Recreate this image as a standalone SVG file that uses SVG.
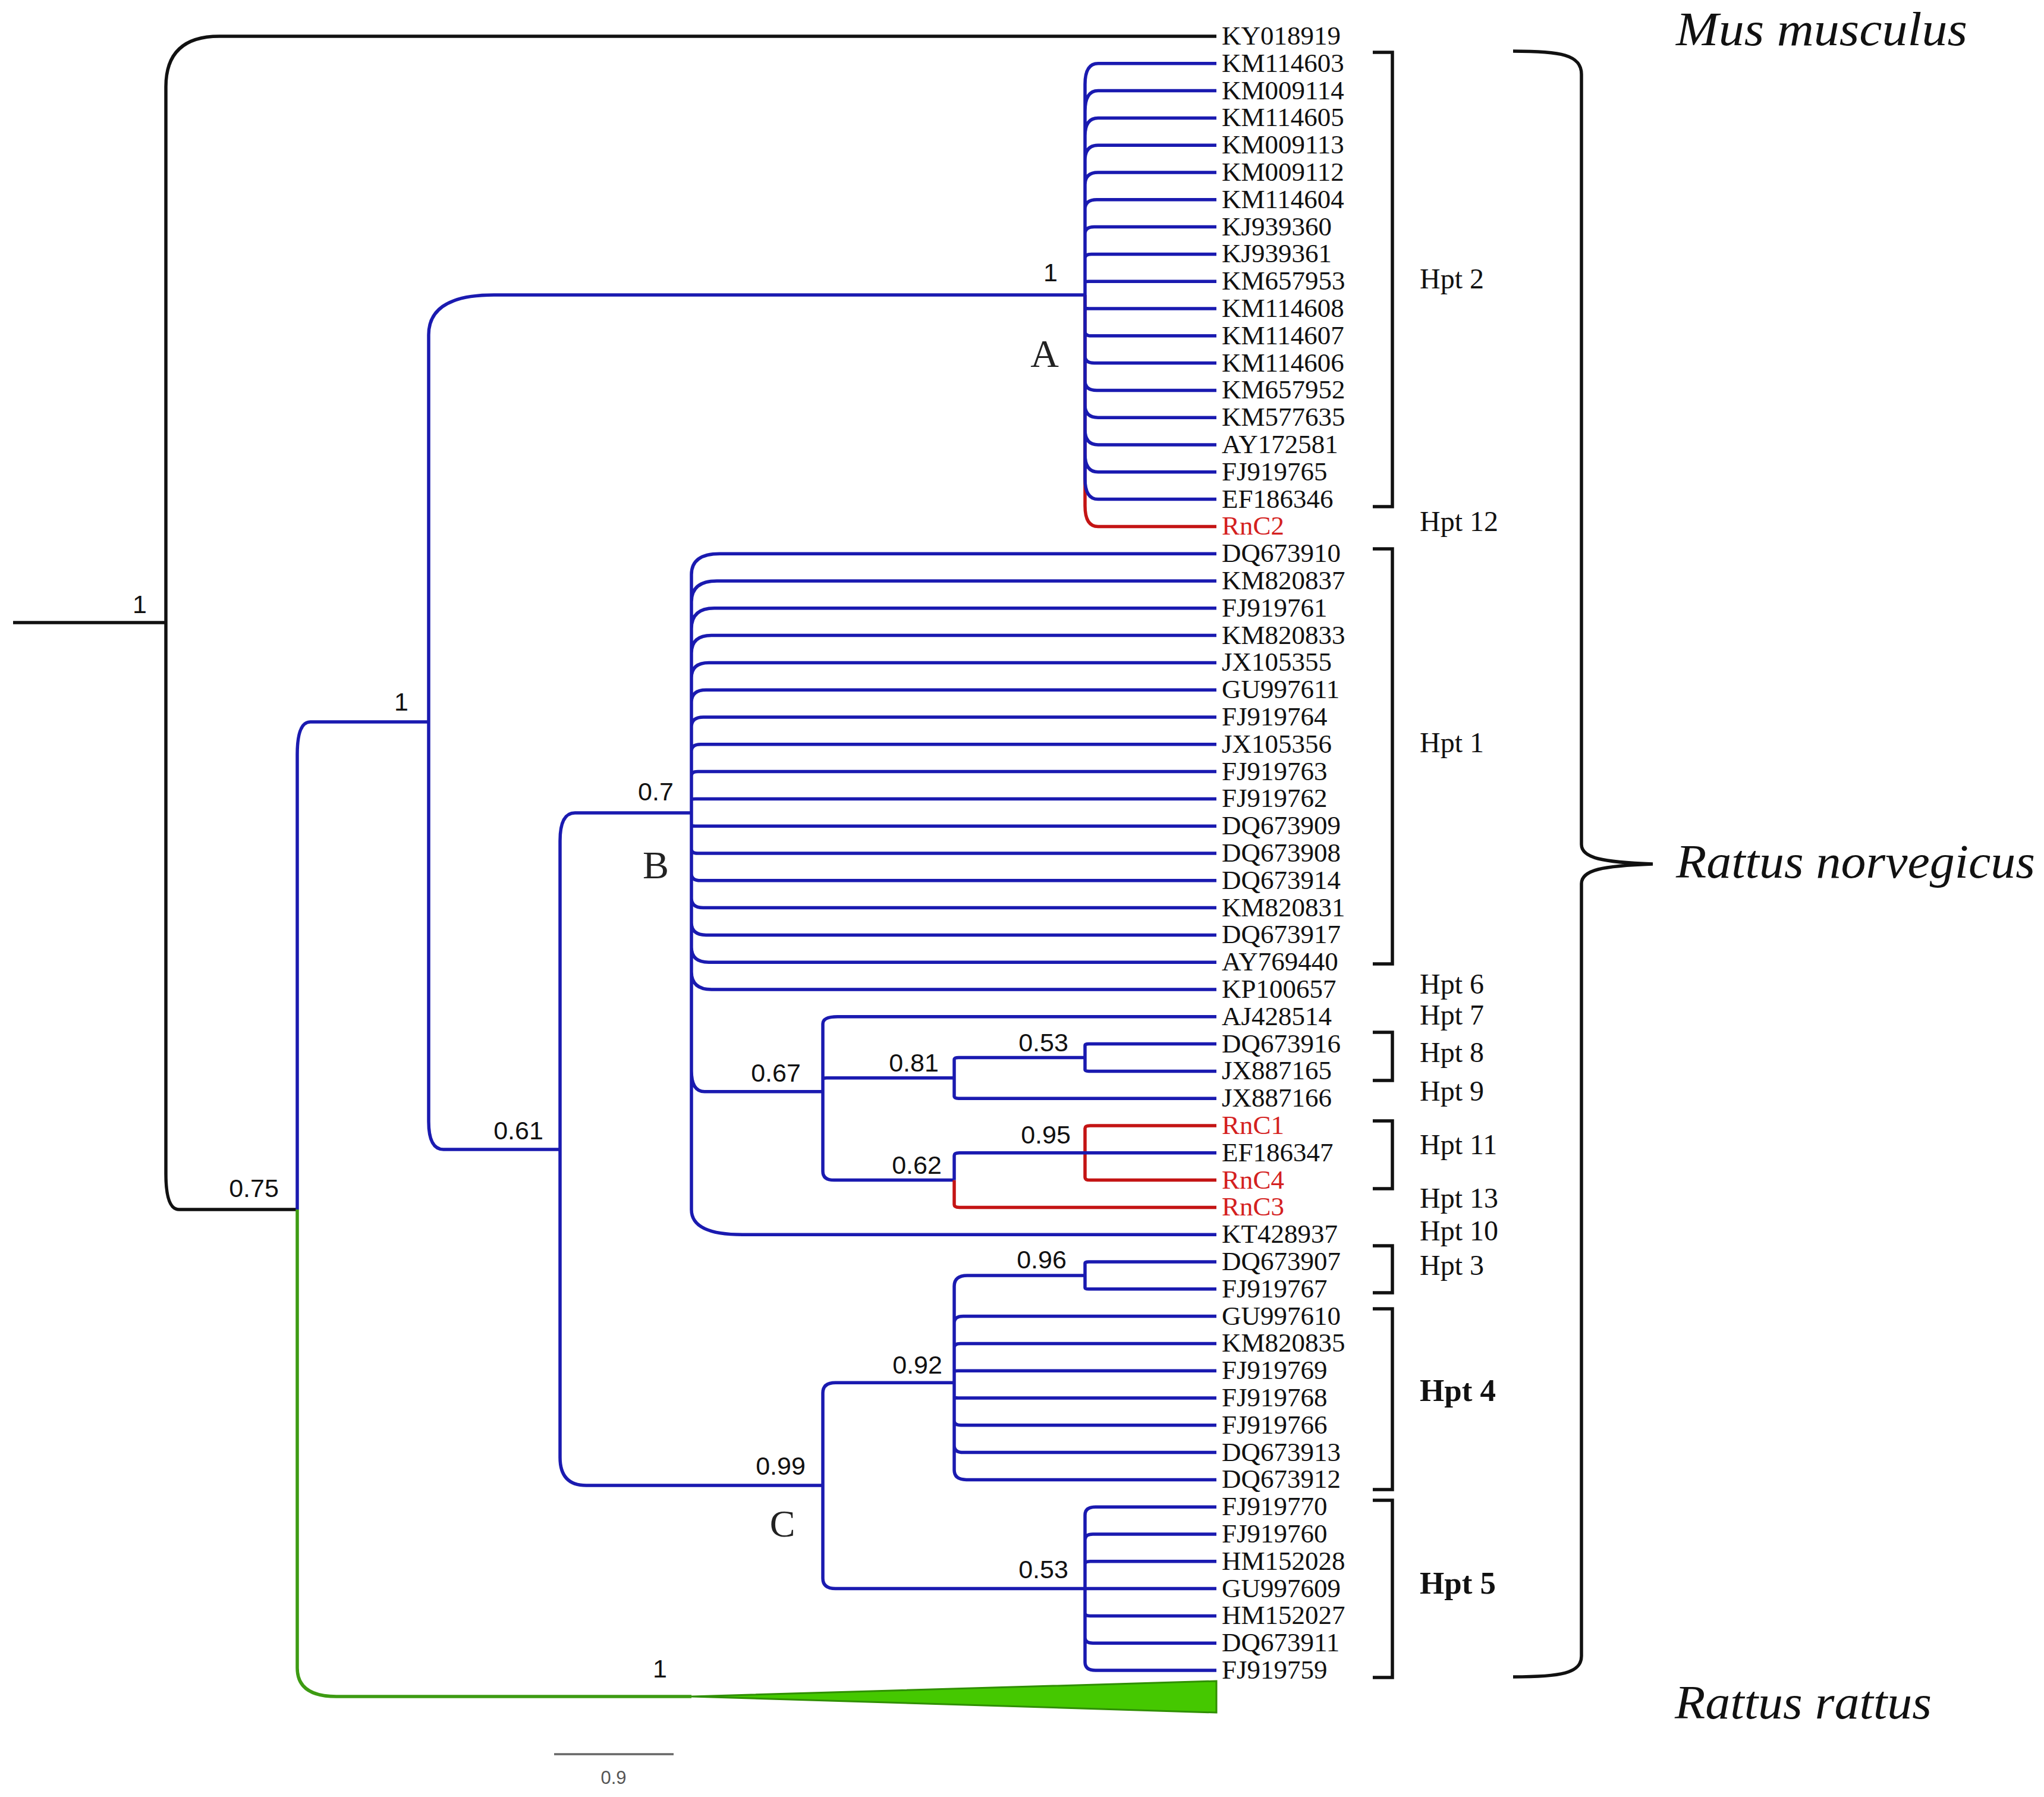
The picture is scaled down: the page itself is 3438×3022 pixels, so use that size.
<svg xmlns="http://www.w3.org/2000/svg" width="3438" height="3022" viewBox="0 0 3438 3022">
<style>
.e{fill:none;stroke-width:5.5;stroke-linecap:butt;stroke-linejoin:round}
.k{stroke:#111}
.b{stroke:#1a1ab0}
.r{stroke:#c41414}
.g{stroke:#3d9b12}
.br{fill:none;stroke:#111;stroke-width:5.5}
.lf{font-family:"Liberation Serif","Times New Roman",serif;font-size:45px;fill:#111}
.red{fill:#d42020}
.hp{font-family:"Liberation Serif","Times New Roman",serif;font-size:48px;fill:#111}
.hb{font-family:"Liberation Serif","Times New Roman",serif;font-size:53px;font-weight:bold;fill:#111}
.sp{font-family:"Liberation Sans",Arial,sans-serif;font-size:43px;fill:#111;text-anchor:middle}
.cl{font-family:"Liberation Serif","Times New Roman",serif;font-size:66px;fill:#222;text-anchor:middle}
.sn{font-family:"Liberation Serif","Times New Roman",serif;font-size:80px;font-style:italic;fill:#111}
</style>
<rect width="3438" height="3022" fill="#fff"/>
<g id="connectors">
<path class="e k" d="M22,1047 H279 M279,1047 V146 Q279,61 369,61 H2046 M279,1047 V1974 Q279,2034 301,2034 H500"/>
<path class="e g" d="M500,2034 V2805 Q500,2853 566,2853 H1163"/>
<polygon points="1163,2853 2046,2827 2046,2880" fill="#45c800" stroke="#2f8f00" stroke-width="3"/>
<path class="e b" d="M500,2034 V1269 Q500,1214 522,1214 H721 M721,1214 V563 Q721,496 831,496 H1825 M721,1214 V1886 Q721,1933 746,1933 H942 M942,1933 V1414 Q942,1367 967,1367 H1163 M942,1933 V2451 Q942,2498 986,2498 H1384"/>
<path class="e r" d="M1825,496 V850.4 Q1825,885.4 1847,885.4 H2046"/>
<path class="e b" d="M1825,496 V141.8 Q1825,106.8 1847,106.8 H2046 M1825,496 V187 Q1825,152.6 1847,152.6 H2046 M1825,496 V228.2 Q1825,198.4 1847,198.4 H2046 M1825,496 V269.4 Q1825,244.2 1847,244.2 H2046 M1825,496 V310.6 Q1825,290 1847,290 H2046 M1825,496 V351.8 Q1825,335.8 1845,335.8 H2046 M1825,496 V393.1 Q1825,381.6 1840.5,381.6 H2046 M1825,496 V434.3 Q1825,427.4 1835.9,427.4 H2046 M1825,496 V475.5 Q1825,473.2 1831.3,473.2 H2046 M1825,496 V516.7 Q1825,519 1831.3,519 H2046 M1825,496 V557.9 Q1825,564.8 1835.9,564.8 H2046 M1825,496 V599.1 Q1825,610.6 1840.5,610.6 H2046 M1825,496 V640.4 Q1825,656.4 1845,656.4 H2046 M1825,496 V681.6 Q1825,702.2 1847,702.2 H2046 M1825,496 V722.8 Q1825,748 1847,748 H2046 M1825,496 V764 Q1825,793.8 1847,793.8 H2046 M1825,496 V805.2 Q1825,839.6 1847,839.6 H2046"/>
<path class="e b" d="M1163,1367 V966.2 Q1163,931.2 1210.6,931.2 H2046 M1163,1367 V1012 Q1163,977 1206,977 H2046 M1163,1367 V1057.2 Q1163,1022.8 1201.4,1022.8 H2046 M1163,1367 V1098.4 Q1163,1068.6 1196.8,1068.6 H2046 M1163,1367 V1139.7 Q1163,1114.4 1192.3,1114.4 H2046 M1163,1367 V1180.9 Q1163,1160.2 1187.7,1160.2 H2046 M1163,1367 V1222.1 Q1163,1206 1183.1,1206 H2046 M1163,1367 V1263.3 Q1163,1251.8 1178.5,1251.8 H2046 M1163,1367 V1304.5 Q1163,1297.6 1173.9,1297.6 H2046 M1163,1367 V1345.8 Q1163,1343.4 1169.4,1343.4 H2046 M1163,1367 V1387 Q1163,1389.2 1169.2,1389.2 H2046 M1163,1367 V1428.2 Q1163,1435 1173.8,1435 H2046 M1163,1367 V1469.4 Q1163,1480.8 1178.4,1480.8 H2046 M1163,1367 V1510.6 Q1163,1526.6 1183,1526.6 H2046 M1163,1367 V1551.8 Q1163,1572.4 1187.6,1572.4 H2046 M1163,1367 V1593.1 Q1163,1618.2 1192.1,1618.2 H2046 M1163,1367 V1634.3 Q1163,1664 1196.7,1664 H2046 M1163,1367 V1800.75 Q1163,1835.75 1185,1835.75 H1384 M1163,1367 V2034.2 Q1163,2076.2 1249,2076.2 H2046"/>
<path class="e b" d="M1384,1835.75 V1721.8 Q1384,1709.8 1409,1709.8 H2046 M1384,1835.75 V1815.15 Q1384,1812.85 1390.3,1812.85 H1605 M1384,1835.75 V1969.7 Q1384,1984.6 1402.9,1984.6 H1605 M1605,1812.85 V1781.9 Q1605,1778.5 1612.4,1778.5 H1825 M1605,1812.85 V1843.8 Q1605,1847.2 1612.4,1847.2 H2046 M1825,1778.5 V1757.9 Q1825,1755.6 1831.3,1755.6 H2046 M1825,1778.5 V1799.1 Q1825,1801.4 1831.3,1801.4 H2046"/>
<path class="e r" d="M1605,1984.6 V2025.8 Q1605,2030.4 1613.6,2030.4 H2046 M1825,1938.8 V1897.6 Q1825,1893 1833.6,1893 H2046 M1825,1938.8 V1980 Q1825,1984.6 1833.6,1984.6 H2046"/>
<path class="e b" d="M1605,1984.6 V1943.4 Q1605,1938.8 1613.6,1938.8 H2046"/>
<path class="e b" d="M1384,2498.3 V2342.5 Q1384,2325.2 1405.3,2325.2 H1605 M1384,2498.3 V2654.3 Q1384,2671.6 1405.3,2671.6 H1825 M1605,2325.2 V2162.9 Q1605,2144.9 1627,2144.9 H1825 M1605,2325.2 V2224.8 Q1605,2213.6 1620.2,2213.6 H2046 M1605,2325.2 V2266 Q1605,2259.4 1615.6,2259.4 H2046 M1605,2325.2 V2307.2 Q1605,2305.2 1611,2305.2 H2046 M1605,2325.2 V2348.4 Q1605,2351 1611.6,2351 H2046 M1605,2325.2 V2389.6 Q1605,2396.8 1616.2,2396.8 H2046 M1605,2325.2 V2430.9 Q1605,2442.6 1620.7,2442.6 H2046 M1605,2325.2 V2472.1 Q1605,2488.4 1625.3,2488.4 H2046 M1825,2144.9 V2124.3 Q1825,2122 1831.3,2122 H2046 M1825,2144.9 V2165.5 Q1825,2167.8 1831.3,2167.8 H2046 M1825,2671.6 V2547.9 Q1825,2534.2 1842.7,2534.2 H2046 M1825,2671.6 V2589.2 Q1825,2580 1838.2,2580 H2046 M1825,2671.6 V2630.4 Q1825,2625.8 1833.6,2625.8 H2046 M1825,2671.6 H2046 M1825,2671.6 V2712.8 Q1825,2717.4 1833.6,2717.4 H2046 M1825,2671.6 V2754 Q1825,2763.2 1838.2,2763.2 H2046 M1825,2671.6 V2795.3 Q1825,2809 1842.7,2809 H2046"/>
</g>
<g id="support-values">
<g id="node-root"><text class="sp" x="235" y="1031">1</text></g>
<g id="node-075"><text class="sp" x="427" y="2013">0.75</text></g>
<g id="node-1b"><text class="sp" x="675" y="1195">1</text></g>
<g id="node-061"><text class="sp" x="872" y="1916">0.61</text></g>
<g id="node-A"><text class="sp" x="1767" y="473">1</text></g>
<g id="node-07"><text class="sp" x="1103" y="1346">0.7</text></g>
<g id="node-067"><text class="sp" x="1305" y="1819">0.67</text></g>
<g id="node-081"><text class="sp" x="1537" y="1802">0.81</text></g>
<g id="node-053a"><text class="sp" x="1755" y="1768">0.53</text></g>
<g id="node-095"><text class="sp" x="1759" y="1923">0.95</text></g>
<g id="node-062"><text class="sp" x="1542" y="1974">0.62</text></g>
<g id="node-096"><text class="sp" x="1752" y="2133">0.96</text></g>
<g id="node-092"><text class="sp" x="1543" y="2310">0.92</text></g>
<g id="node-099"><text class="sp" x="1313" y="2480">0.99</text></g>
<g id="node-053b"><text class="sp" x="1755" y="2654">0.53</text></g>
<g id="node-rr"><text class="sp" x="1110" y="2821">1</text></g>
</g>
<g id="clade-labels">
<text class="cl" x="1757" y="617">A</text>
<text class="cl" x="1103" y="1477">B</text>
<text class="cl" x="1316" y="2584" style="font-size:64px">C</text>
</g>
<g id="leaves">
<g id="leaf-KY018919"><text class="lf" x="2055" y="75">KY018919</text></g>
<g id="leaf-KM114603"><text class="lf" x="2055" y="120.8">KM114603</text></g>
<g id="leaf-KM009114"><text class="lf" x="2055" y="166.6">KM009114</text></g>
<g id="leaf-KM114605"><text class="lf" x="2055" y="212.4">KM114605</text></g>
<g id="leaf-KM009113"><text class="lf" x="2055" y="258.2">KM009113</text></g>
<g id="leaf-KM009112"><text class="lf" x="2055" y="304">KM009112</text></g>
<g id="leaf-KM114604"><text class="lf" x="2055" y="349.8">KM114604</text></g>
<g id="leaf-KJ939360"><text class="lf" x="2055" y="395.6">KJ939360</text></g>
<g id="leaf-KJ939361"><text class="lf" x="2055" y="441.4">KJ939361</text></g>
<g id="leaf-KM657953"><text class="lf" x="2055" y="487.2">KM657953</text></g>
<g id="leaf-KM114608"><text class="lf" x="2055" y="533">KM114608</text></g>
<g id="leaf-KM114607"><text class="lf" x="2055" y="578.8">KM114607</text></g>
<g id="leaf-KM114606"><text class="lf" x="2055" y="624.6">KM114606</text></g>
<g id="leaf-KM657952"><text class="lf" x="2055" y="670.4">KM657952</text></g>
<g id="leaf-KM577635"><text class="lf" x="2055" y="716.2">KM577635</text></g>
<g id="leaf-AY172581"><text class="lf" x="2055" y="762">AY172581</text></g>
<g id="leaf-FJ919765"><text class="lf" x="2055" y="807.8">FJ919765</text></g>
<g id="leaf-EF186346"><text class="lf" x="2055" y="853.6">EF186346</text></g>
<g id="leaf-RnC2"><text class="lf red" x="2055" y="899.4">RnC2</text></g>
<g id="leaf-DQ673910"><text class="lf" x="2055" y="945.2">DQ673910</text></g>
<g id="leaf-KM820837"><text class="lf" x="2055" y="991">KM820837</text></g>
<g id="leaf-FJ919761"><text class="lf" x="2055" y="1036.8">FJ919761</text></g>
<g id="leaf-KM820833"><text class="lf" x="2055" y="1082.6">KM820833</text></g>
<g id="leaf-JX105355"><text class="lf" x="2055" y="1128.4">JX105355</text></g>
<g id="leaf-GU997611"><text class="lf" x="2055" y="1174.2">GU997611</text></g>
<g id="leaf-FJ919764"><text class="lf" x="2055" y="1220">FJ919764</text></g>
<g id="leaf-JX105356"><text class="lf" x="2055" y="1265.8">JX105356</text></g>
<g id="leaf-FJ919763"><text class="lf" x="2055" y="1311.6">FJ919763</text></g>
<g id="leaf-FJ919762"><text class="lf" x="2055" y="1357.4">FJ919762</text></g>
<g id="leaf-DQ673909"><text class="lf" x="2055" y="1403.2">DQ673909</text></g>
<g id="leaf-DQ673908"><text class="lf" x="2055" y="1449">DQ673908</text></g>
<g id="leaf-DQ673914"><text class="lf" x="2055" y="1494.8">DQ673914</text></g>
<g id="leaf-KM820831"><text class="lf" x="2055" y="1540.6">KM820831</text></g>
<g id="leaf-DQ673917"><text class="lf" x="2055" y="1586.4">DQ673917</text></g>
<g id="leaf-AY769440"><text class="lf" x="2055" y="1632.2">AY769440</text></g>
<g id="leaf-KP100657"><text class="lf" x="2055" y="1678">KP100657</text></g>
<g id="leaf-AJ428514"><text class="lf" x="2055" y="1723.8">AJ428514</text></g>
<g id="leaf-DQ673916"><text class="lf" x="2055" y="1769.6">DQ673916</text></g>
<g id="leaf-JX887165"><text class="lf" x="2055" y="1815.4">JX887165</text></g>
<g id="leaf-JX887166"><text class="lf" x="2055" y="1861.2">JX887166</text></g>
<g id="leaf-RnC1"><text class="lf red" x="2055" y="1907">RnC1</text></g>
<g id="leaf-EF186347"><text class="lf" x="2055" y="1952.8">EF186347</text></g>
<g id="leaf-RnC4"><text class="lf red" x="2055" y="1998.6">RnC4</text></g>
<g id="leaf-RnC3"><text class="lf red" x="2055" y="2044.4">RnC3</text></g>
<g id="leaf-KT428937"><text class="lf" x="2055" y="2090.2">KT428937</text></g>
<g id="leaf-DQ673907"><text class="lf" x="2055" y="2136">DQ673907</text></g>
<g id="leaf-FJ919767"><text class="lf" x="2055" y="2181.8">FJ919767</text></g>
<g id="leaf-GU997610"><text class="lf" x="2055" y="2227.6">GU997610</text></g>
<g id="leaf-KM820835"><text class="lf" x="2055" y="2273.4">KM820835</text></g>
<g id="leaf-FJ919769"><text class="lf" x="2055" y="2319.2">FJ919769</text></g>
<g id="leaf-FJ919768"><text class="lf" x="2055" y="2365">FJ919768</text></g>
<g id="leaf-FJ919766"><text class="lf" x="2055" y="2410.8">FJ919766</text></g>
<g id="leaf-DQ673913"><text class="lf" x="2055" y="2456.6">DQ673913</text></g>
<g id="leaf-DQ673912"><text class="lf" x="2055" y="2502.4">DQ673912</text></g>
<g id="leaf-FJ919770"><text class="lf" x="2055" y="2548.2">FJ919770</text></g>
<g id="leaf-FJ919760"><text class="lf" x="2055" y="2594">FJ919760</text></g>
<g id="leaf-HM152028"><text class="lf" x="2055" y="2639.8">HM152028</text></g>
<g id="leaf-GU997609"><text class="lf" x="2055" y="2685.6">GU997609</text></g>
<g id="leaf-HM152027"><text class="lf" x="2055" y="2731.4">HM152027</text></g>
<g id="leaf-DQ673911"><text class="lf" x="2055" y="2777.2">DQ673911</text></g>
<g id="leaf-FJ919759"><text class="lf" x="2055" y="2823">FJ919759</text></g>
</g>
<g id="haplotypes">
<path class="br" d="M2309,88 H2342 V852 H2309 M2309,923 H2342 V1621 H2309 M2309,1736 H2342 V1817 H2309 M2309,1885 H2342 V1999 H2309 M2309,2095 H2342 V2174 H2309 M2309,2201 H2342 V2505 H2309 M2309,2523 H2342 V2821 H2309"/>
<text class="hp" x="2388" y="485">Hpt 2</text>
<text class="hp" x="2388" y="893">Hpt 12</text>
<text class="hp" x="2388" y="1265">Hpt 1</text>
<text class="hp" x="2388" y="1671">Hpt 6</text>
<text class="hp" x="2388" y="1723">Hpt 7</text>
<text class="hp" x="2388" y="1786">Hpt 8</text>
<text class="hp" x="2388" y="1851">Hpt 9</text>
<text class="hp" x="2388" y="1941">Hpt 11</text>
<text class="hp" x="2388" y="2031">Hpt 13</text>
<text class="hp" x="2388" y="2086">Hpt 10</text>
<text class="hp" x="2388" y="2144">Hpt 3</text>
<text class="hb" x="2388" y="2356">Hpt 4</text>
<text class="hb" x="2388" y="2680">Hpt 5</text>
</g>
<g id="species">
<path fill="none" stroke="#111" stroke-width="5.5" d="M2545,86 C2625,86 2660,92 2660,125 V1420 C2660,1443 2695,1450 2780,1453 C2695,1456 2660,1463 2660,1486 V2785 C2660,2814 2625,2820 2545,2820"/>
<text class="sn" x="2819" y="76" textLength="490" lengthAdjust="spacingAndGlyphs">Mus musculus</text>
<text class="sn" x="2819" y="1476" textLength="604" lengthAdjust="spacingAndGlyphs">Rattus norvegicus</text>
<text class="sn" x="2817" y="2890" textLength="432" lengthAdjust="spacingAndGlyphs">Rattus rattus</text>
</g>
<g id="scale-bar">
<path d="M932,2950 H1133" stroke="#666" stroke-width="3.5" fill="none"/>
<text x="1032" y="3000" font-family="Liberation Sans, Arial, sans-serif" font-size="31" fill="#555" text-anchor="middle">0.9</text>
</g>
</svg>
